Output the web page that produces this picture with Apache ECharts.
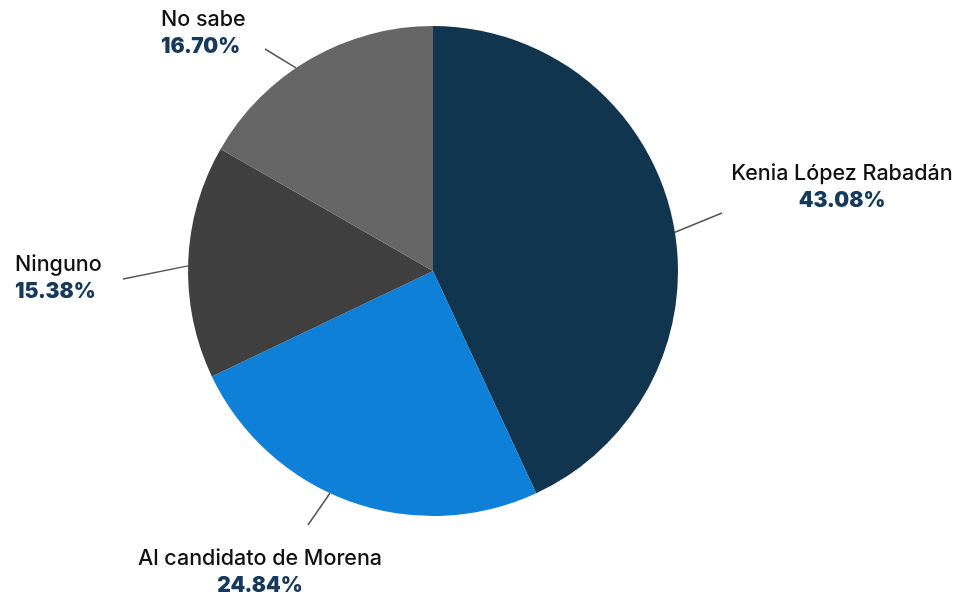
<!DOCTYPE html>
<html>
<head>
<meta charset="utf-8">
<script src="https://cdn.jsdelivr.net/npm/echarts@6/dist/echarts.min.js"></script>
<style>
  html, body { margin: 0; padding: 0; background: #ffffff; }
  #chart { width: 959px; height: 595px; }
</style>
</head>
<body>
<div id="chart"></div>
<script>
// ---- data ----
const categories = ['Kenia López Rabadán', 'Al candidato de Morena', 'Ninguno', 'No sabe'];
const values = [43.08, 24.84, 15.38, 16.70];
const valueLabels = ['43.08%', '24.84%', '15.38%', '16.70%'];
const sliceColors = ['#12354f', '#0e80d8', '#404040', '#666666'];

// ---- label layout (annotation placement) ----
const CENTER = [433, 271];
const RADIUS = 245;
const labelBoxes = [
  { x: 842, y: 160, align: 'center', leaderAngle: 80.9, lineEnd: [722, 213] },
  { x: 260, y: 545, align: 'center', leaderAngle: 204.9, lineEnd: [308, 525] },
  { x: 15,  y: 251, align: 'left',   leaderAngle: 271.2, lineEnd: [123, 279] },
  { x: 161, y: 6,   align: 'left',   leaderAngle: 326,   lineEnd: [265, 49] }
];

function edgePoint(angleDeg) {
  const a = angleDeg * Math.PI / 180;
  return [CENTER[0] + RADIUS * Math.sin(a), CENTER[1] - RADIUS * Math.cos(a)];
}

const chart = echarts.init(document.getElementById('chart'), null, { renderer: 'canvas' });

const seriesData = categories.map(function (name, i) {
  const al = labelBoxes[i].align;
  return {
    name: name,
    value: values[i],
    itemStyle: { color: sliceColors[i] },
    label: {
      rich: {
        n: { align: al },
        v: { align: al }
      }
    }
  };
});

chart.setOption({
  animation: false,
  backgroundColor: '#ffffff',
  series: [{
    type: 'pie',
    center: CENTER,
    radius: RADIUS,
    startAngle: 90,
    clockwise: true,
    avoidLabelOverlap: false,
    data: seriesData,
    itemStyle: { borderWidth: 0 },
    emphasis: { disabled: true },
    label: {
      show: true,
      position: 'outside',
      formatter: function (p) {
        return '{n|' + p.name + '}\n{v|' + valueLabels[p.dataIndex] + '}';
      },
      rich: {
        n: { fontFamily: 'Inter', fontSize: 21.5, fontWeight: 500, color: '#111111', lineHeight: 27 },
        v: { fontFamily: 'Inter', fontSize: 21, fontWeight: 900, color: '#163a5c', lineHeight: 27 }
      }
    },
    labelLine: {
      show: true,
      length: 20,
      length2: 0,
      smooth: false,
      lineStyle: { color: '#555555', width: 1.5 }
    },
    labelLayout: function (p) {
      const b = labelBoxes[p.dataIndex];
      const s = edgePoint(b.leaderAngle);
      return {
        x: b.x,
        y: b.y,
        align: b.align,
        verticalAlign: 'top',
        labelLinePoints: [s, b.lineEnd, b.lineEnd]
      };
    }
  }]
});
</script>
</body>
</html>
